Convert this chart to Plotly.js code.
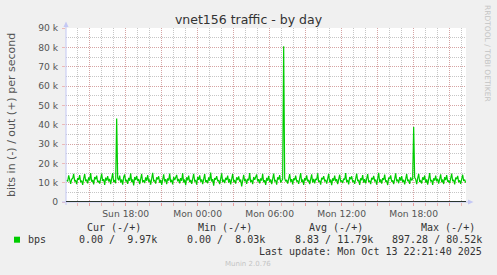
<!DOCTYPE html>
<html><head><meta charset="utf-8">
<script src="https://cdn.plot.ly/plotly-3.0.1.min.js"></script>
<style>html,body{margin:0;padding:0;background:#F0F0F0;}#chart{width:497px;height:275px;}</style>
</head><body><div id="chart"></div>
<script>
// out traffic, kbit/s, one sample per 5 minutes from Sun 13:05
const outKbps = [
11.3,10.6,13.8,10.9,9.4,11.8,12.2,14.6,10.7,11.1,9.2,12.4,11.5,13.9,10.3,11.0,8.9,12.1,14.4,10.8,
11.6,9.6,12.7,11.2,15.0,10.5,11.4,9.1,12.9,11.7,13.6,10.2,11.0,9.5,12.3,14.7,10.9,11.8,8.8,12.6,
11.1,13.4,10.6,11.9,9.3,12.2,14.9,10.4,11.3,9.7,43.2,12.4,11.2,13.7,10.1,11.6,9.0,12.8,14.2,10.7,
11.5,9.4,12.5,11.0,14.8,10.3,11.7,8.6,12.9,11.4,13.5,10.8,11.9,9.2,12.1,14.5,10.2,11.3,9.8,12.7,
11.0,13.9,10.5,11.6,9.0,12.4,15.1,10.9,11.2,9.5,12.8,11.7,13.3,10.0,11.4,8.9,12.6,14.3,10.6,11.8,
9.3,12.2,11.1,14.7,10.4,11.5,9.1,13.0,11.3,12.5,14.0,10.7,11.9,9.6,12.3,11.0,14.9,10.1,11.6,8.7,
12.8,11.2,13.6,10.3,11.4,9.4,12.6,14.6,10.8,11.1,9.0,12.9,11.5,13.8,10.5,11.7,9.2,12.0,14.4,10.2,
11.3,9.7,12.7,11.0,15.2,10.6,11.8,8.5,12.4,11.6,13.4,10.9,11.2,9.3,12.1,14.8,10.4,11.5,9.8,12.5,
11.4,13.7,10.0,11.9,9.1,12.3,14.5,10.7,11.1,9.5,12.8,11.3,13.2,10.5,11.6,8.03,12.6,14.1,10.8,11.7,
9.4,12.0,11.2,14.9,10.3,11.4,9.2,12.9,11.5,12.7,14.2,10.6,11.8,9.6,12.2,11.1,14.6,10.2,11.3,8.8,
12.5,11.0,13.5,10.4,11.7,9.3,12.4,14.7,10.9,11.2,9.0,12.8,11.6,13.9,10.1,11.5,11.9,80.52,12.3,10.7,
11.4,9.5,12.6,14.4,10.5,11.8,9.1,12.2,11.3,13.6,10.8,11.0,9.4,12.9,15.0,10.3,11.6,8.9,12.4,11.2,
13.8,10.6,11.5,9.2,12.7,14.3,10.1,11.9,9.7,12.0,11.4,14.8,10.4,11.1,9.0,12.5,11.7,13.4,10.9,11.3,
9.5,12.8,14.6,10.2,11.6,8.7,12.3,11.0,13.7,10.7,11.8,9.3,12.6,14.1,10.5,11.2,9.8,12.1,11.5,14.9,
10.3,11.4,9.1,12.9,11.7,13.3,10.6,11.0,9.4,12.4,14.7,10.8,11.5,8.9,12.2,11.3,13.9,10.0,11.8,9.6,
12.7,14.4,10.4,11.1,9.2,12.5,11.6,13.5,10.9,11.3,9.0,12.8,15.1,10.2,11.7,9.5,12.3,11.4,14.2,10.6,
11.0,8.8,12.6,11.9,13.8,10.5,11.2,9.3,12.1,14.8,10.7,11.6,9.7,12.9,11.1,13.4,10.3,11.5,9.1,12.4,
14.5,10.8,11.3,9.4,12.7,11.2,12.0,38.8,12.6,11.8,9.2,12.2,14.6,10.4,11.0,9.6,12.8,11.5,13.7,10.1,
11.7,9.0,12.5,14.9,10.6,11.4,8.9,12.3,11.1,13.6,10.7,11.9,9.5,12.1,14.3,10.2,11.6,9.3,12.9,11.3,
13.9,10.5,11.0,9.7,12.4,14.7,10.8,11.5,9.1,12.6,11.8,13.5,10.3,11.2,9.4,12.0,14.1,10.9,11.6,9.97
];
// in traffic (bit/s), nonzero samples only (drawn negative)
const inIdx = [30, 50, 51, 120, 217, 218, 260, 290, 347, 380];
const inBps = [320, 512, 180, 95, 897.28, 240, 280, 110, 610, 288];

const sampleStartUTC = Date.UTC(2025, 9, 12, 13, 5, 0);
const sampleStepMin = 5;
const xRange = ['2025-10-12 13:01:40', '2025-10-13 22:21:40'];

const yTickVals = [0, 10000, 20000, 30000, 40000, 50000, 60000, 70000, 80000, 90000];
const yTickText = ['0', '10 k', '20 k', '30 k', '40 k', '50 k', '60 k', '70 k', '80 k', '90 k'];
const xTickVals = ['2025-10-12 15:00', '2025-10-12 18:00', '2025-10-12 21:00', '2025-10-13 00:00',
  '2025-10-13 03:00', '2025-10-13 06:00', '2025-10-13 09:00', '2025-10-13 12:00',
  '2025-10-13 15:00', '2025-10-13 18:00', '2025-10-13 21:00'];
const xTickText = ['', 'Sun 18:00', '', 'Mon 00:00', '', 'Mon 06:00', '', 'Mon 12:00', '', 'Mon 18:00', ''];

const legendHeaders = ['Cur (-/+)', 'Min (-/+)', 'Avg (-/+)', 'Max (-/+)'];
const legendValues = ['0.00 /  9.97k', '0.00 /  8.03k', '8.83 / 11.79k', '897.28 / 80.52k'];
const legendLabel = 'bps';
const lastUpdate = 'Last update: Mon Oct 13 22:21:40 2025';
const footer = 'Munin 2.0.76';
const sideText = 'RRDTOOL / TOBI OETIKER';
const titleText = 'vnet156 traffic - by day';
const yTitle = 'bits in (-) / out (+) per second';

// ---- build traces ----
function ts(i) {
  return new Date(sampleStartUTC + i * sampleStepMin * 60000).toISOString().slice(0, 19).replace('T', ' ');
}
const xs = outKbps.map((_, i) => ts(i));
const outY = outKbps.map(v => v * 1000);
const inY = outKbps.map(() => 0);
inIdx.forEach((k, j) => { inY[k] = -inBps[j]; });

const GREEN = '#00CC00';
const traces = [
  {x: xs, y: inY, type: 'scatter', mode: 'lines', line: {color: GREEN, width: 1}, hoverinfo: 'skip'},
  {x: xs, y: outY, type: 'scatter', mode: 'lines', line: {color: GREEN, width: 1.2}, hoverinfo: 'skip'}
];

// ---- layout helpers (pixel -> paper) ----
const L = 66, T = 28, W = 400, H = 174;
const px = x => (x - L) / W;
const py = y => (T + H - y) / H;

const MONO = 'DejaVu Sans Mono';
const SANS = 'DejaVu Sans';
const nb = s => s.replace(/ /g, '\u00a0');

const ann = [];
const hdrRight = [142.3, 253.3, 364.3, 476];
legendHeaders.forEach((h, i) => ann.push({text: nb(h), x: px(hdrRight[i]), y: py(227.7), xanchor: 'right', yanchor: 'middle',
  font: {family: MONO, size: 10, color: '#333'}}));
const valRight = [157.7, 265.7, 374.3, 482.7];
legendValues.forEach((v, i) => ann.push({text: nb(v), x: px(valRight[i]), y: py(239.7), xanchor: 'right', yanchor: 'middle',
  font: {family: MONO, size: 10, color: '#333'}}));
ann.push({text: legendLabel, x: px(26.5), y: py(239.7), xanchor: 'left', yanchor: 'middle', font: {family: MONO, size: 10, color: '#333'}});
ann.push({text: nb(lastUpdate), x: px(482.7), y: py(251.7), xanchor: 'right', yanchor: 'middle', font: {family: MONO, size: 10, color: '#333'}});
ann.push({text: footer, x: px(248), y: py(263.7), xanchor: 'center', yanchor: 'middle', font: {family: SANS, size: 7, color: '#c4c4c4'}});
ann.push({text: sideText, x: px(487.5), y: py(53.5), xanchor: 'center', yanchor: 'middle', textangle: 90, font: {family: SANS, size: 7.5, color: '#c4c4c4'}});
ann.push({text: yTitle, x: px(11), y: py(115), xanchor: 'center', yanchor: 'middle', textangle: -90, font: {family: SANS, size: 11, color: '#555'}});
ann.forEach(a => { a.xref = 'paper'; a.yref = 'paper'; a.showarrow = false; a.borderpad = 0; });

const AXBLUE = '#c4c8f4';
const shapes = [
  {type: 'line', xref: 'paper', yref: 'paper', x0: px(66), x1: px(66), y0: py(205), y1: py(26), line: {color: AXBLUE, width: 1}},
  {type: 'path', xref: 'paper', yref: 'paper', fillcolor: AXBLUE, line: {width: 0},
    path: `M ${px(66)} ${py(21.5)} L ${px(63.5)} ${py(27)} L ${px(68.5)} ${py(27)} Z`},
  {type: 'line', xref: 'paper', yref: 'paper', x0: px(62), x1: px(469), y0: py(202), y1: py(202), line: {color: AXBLUE, width: 1}},
  {type: 'path', xref: 'paper', yref: 'paper', fillcolor: AXBLUE, line: {width: 0},
    path: `M ${px(473.5)} ${py(202)} L ${px(468)} ${py(199.5)} L ${px(468)} ${py(204.5)} Z`},
  {type: 'line', xref: 'paper', yref: 'y', x0: 0, x1: 1, y0: 0, y1: 0, line: {color: '#000', width: 1.3}},
  {type: 'rect', xref: 'paper', yref: 'paper', x0: px(14), x1: px(20), y0: py(242.7), y1: py(236.7), fillcolor: GREEN, line: {width: 0}}
];

const MGRID = 'rgba(230,130,130,0.5)';
const GRID = 'rgba(160,160,160,0.6)';

const layout = {
  width: 497, height: 275,
  margin: {l: L, r: 497 - L - W, t: T, b: 275 - T - H, pad: 0},
  paper_bgcolor: '#F0F0F0', plot_bgcolor: '#FFFFFF',
  font: {family: SANS, color: '#555'},
  showlegend: false,
  title: {text: titleText, x: 0.5, xref: 'container', xanchor: 'center', y: 1 - 19.3 / 275, yref: 'container', yanchor: 'middle',
    font: {family: SANS, size: 12.5, color: '#333'}},
  xaxis: {
    type: 'date', range: xRange, fixedrange: true,
    tickmode: 'array', tickvals: xTickVals, ticktext: xTickText,
    ticks: 'outside', ticklen: 3, tickcolor: MGRID, tickwidth: 1,
    tickfont: {family: SANS, size: 9.2, color: '#555'},
    showgrid: true, gridcolor: MGRID, griddash: '1px,1px', gridwidth: 1,
    minor: {dtick: 3600000, tick0: '2025-10-12 00:00', showgrid: true, gridcolor: GRID, griddash: '1px,1px', gridwidth: 1,
      ticks: 'outside', ticklen: 3, tickcolor: MGRID},
    showline: false, zeroline: false
  },
  yaxis: {
    range: [0, 90000], fixedrange: true,
    tickmode: 'array', tickvals: yTickVals, ticktext: yTickText,
    ticks: 'outside', ticklen: 3, tickcolor: MGRID, tickwidth: 1,
    ticklabelstandoff: 2,
    tickfont: {family: SANS, size: 9.2, color: '#555'},
    showgrid: true, gridcolor: MGRID, griddash: '1px,1px', gridwidth: 1,
    minor: {dtick: 5000, showgrid: true, gridcolor: GRID, griddash: '1px,1px', gridwidth: 1},
    showline: false, zeroline: false
  },
  annotations: ann,
  shapes: shapes
};

Plotly.newPlot('chart', traces, layout, {staticPlot: true, displayModeBar: false});
</script>
</body></html>
